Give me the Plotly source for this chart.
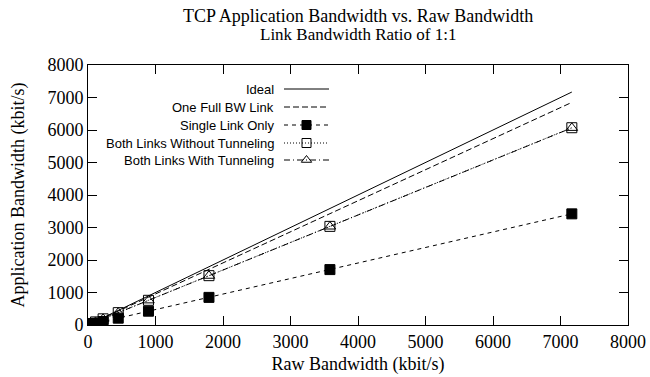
import plotly.graph_objects as go

# ---- data ----
raw_bw = [28, 56, 112, 224, 448, 896, 1792, 3584, 7168]
ideal = [28, 56, 112, 224, 448, 896, 1792, 3584, 7168]
one_full_bw = [27, 53, 107, 214, 428, 856, 1712, 3425, 6850]
single_link = [13, 27, 53, 107, 210, 425, 850, 1705, 3420]
both_no_tunnel = [24, 47, 95, 190, 380, 760, 1518, 3035, 6070]
both_tunnel = [24, 47, 95, 190, 379, 758, 1515, 3030, 6065]

series_names = ["Ideal", "One Full BW Link", "Single Link Only",
                "Both Links Without Tunneling", "Both Links With Tunneling"]

x_ticks = [0, 1000, 2000, 3000, 4000, 5000, 6000, 7000, 8000]
y_ticks = [0, 1000, 2000, 3000, 4000, 5000, 6000, 7000, 8000]

SERIF = "Liberation Serif, Times New Roman, serif"
SANS = "Liberation Sans, Arial, sans-serif"

styles = [
    dict(dash="solid", symbol=None),
    dict(dash="6px,3px", symbol=None),
    dict(dash="4px,4px", symbol="square"),
    dict(dash="1px,2px", symbol="square-open"),
    dict(dash="6px,3px,1px,3px", symbol="triangle-up-open"),
]
values = [ideal, one_full_bw, single_link, both_no_tunnel, both_tunnel]

fig = go.Figure()
for name, ys, st in zip(series_names, values, styles):
    mode = "lines+markers" if st["symbol"] else "lines"
    fig.add_trace(go.Scatter(
        x=raw_bw, y=ys, name=name, mode=mode,
        line=dict(color="black", width=1, dash=st["dash"]),
        marker=dict(symbol=st["symbol"] or "circle", size=10, color="black",
                    line=dict(color="black", width=1)),
        showlegend=False, xaxis="x", yaxis="y",
    ))

# ---- custom legend (text on left, sample on right) using overlay pixel axes ----
L, R, T, B = 88, 628, 65, 325
row_px = [89, 107, 125, 143, 160]
text_right = 276
s0, s1 = 284, 329
for name, st, py in zip(series_names, styles, row_px):
    yy = B - py
    fig.add_trace(go.Scatter(
        x=[s0, s1], y=[yy, yy], mode="lines",
        line=dict(color="black", width=1, dash=st["dash"]),
        showlegend=False, hoverinfo="skip", xaxis="x2", yaxis="y2"))
    if st["symbol"]:
        fig.add_trace(go.Scatter(
            x=[(s0 + s1) / 2], y=[yy], mode="markers",
            marker=dict(symbol=st["symbol"], size=9, color="black",
                        line=dict(color="black", width=1)),
            showlegend=False, hoverinfo="skip", xaxis="x2", yaxis="y2"))
    fig.add_annotation(x=text_right, y=yy, xref="x2", yref="y2", text=name,
                       showarrow=False, xanchor="right", yanchor="middle",
                       font=dict(family=SANS, size=13, color="black"))

W, H = 650, 377
axis_common = dict(
    showgrid=False, zeroline=False, showline=True, linecolor="black",
    linewidth=1, mirror="ticks", ticks="inside", ticklen=9, tickwidth=1,
    tickcolor="black", tickfont=dict(family=SERIF, size=18, color="black"),
    automargin=False,
)
fig.update_layout(
    width=W, height=H,
    margin=dict(l=L, r=W - R, t=T, b=H - B),
    paper_bgcolor="white", plot_bgcolor="white",
    xaxis=dict(range=[0, 8000], tickvals=x_ticks, **axis_common,
               title=dict(text="Raw Bandwidth (kbit/s)", standoff=6,
                          font=dict(family=SERIF, size=18, color="black"))),
    yaxis=dict(range=[0, 8000], tickvals=y_ticks, **axis_common,
               title=dict(text="Application Bandwidth (kbit/s)", standoff=18,
                          font=dict(family=SERIF, size=18, color="black"))),
    xaxis2=dict(range=[L, R], overlaying="x", visible=False, fixedrange=True),
    yaxis2=dict(range=[0, B - T], overlaying="y", visible=False, fixedrange=True),
    showlegend=False,
)
fig.add_annotation(text="TCP Application Bandwidth vs. Raw Bandwidth",
                   x=0.5, y=1 + (T - 16) / (B - T), xref="paper", yref="paper",
                   showarrow=False, xanchor="center", yanchor="middle",
                   font=dict(family=SERIF, size=18, color="black"))
fig.add_annotation(text="Link Bandwidth Ratio of 1:1",
                   x=0.5, y=1 + (T - 35) / (B - T), xref="paper", yref="paper",
                   showarrow=False, xanchor="center", yanchor="middle",
                   font=dict(family=SERIF, size=17, color="black"))

fig.write_html("out.html")
